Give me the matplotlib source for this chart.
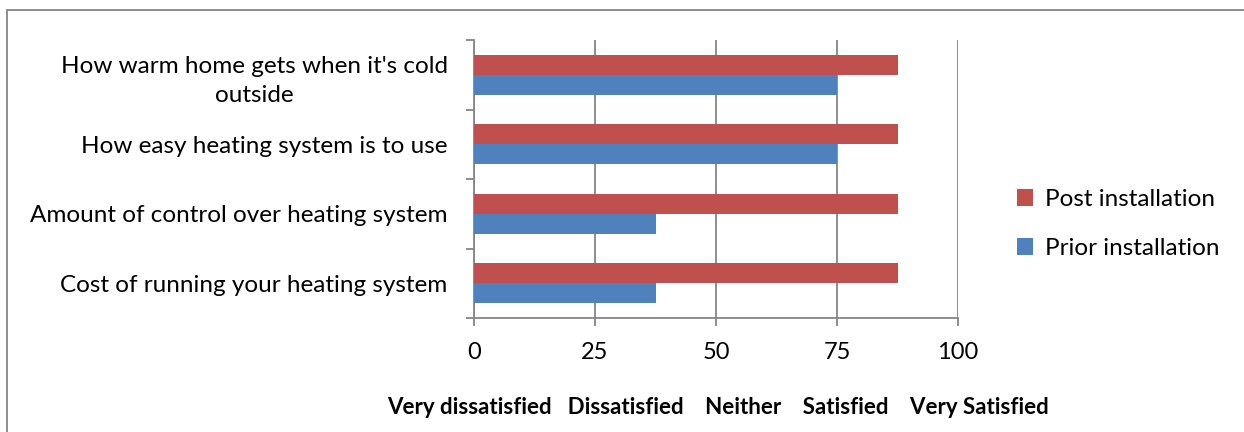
import numpy as np
import matplotlib.pyplot as plt
from matplotlib.patches import Rectangle

# Data
categories = ["Cost of running your heating system",
              "Amount of control over heating system",
              "How easy heating system is to use",
              "How warm home gets when it's cold\noutside"]
prior = [37.5, 37.5, 75, 75]
post = [87.5, 87.5, 87.5, 87.5]
x_ticks = [0, 25, 50, 75, 100]
scale_title = "Very dissatisfied   Dissatisfied    Neither    Satisfied    Very Satisfied"

plt.rcParams['font.family'] = ['Lato', 'DejaVu Sans']

W, H = 1244, 432
fig = plt.figure(figsize=(W / 100, H / 100), dpi=100)
ax = fig.add_axes([474 / W, 1 - 318 / H, (958 - 474) / W, (318 - 40) / H])

grid_col = '#868686'
bar_h = 1 / 1.75 / 2
y = np.arange(len(categories))
ax.barh(y - bar_h / 2, prior, height=bar_h, color='#4F81BD', label='Prior installation', zorder=3)
ax.barh(y + bar_h / 2, post, height=bar_h, color='#C0504D', label='Post installation', zorder=3)

ax.set_xlim(0, 100)
ax.set_ylim(-0.5, len(categories) - 0.5)
ax.set_xticks(x_ticks)
ax.set_xticklabels([str(v) for v in x_ticks], fontsize=17)
ax.xaxis.grid(True, color=grid_col, linewidth=1.3, zorder=0)

ax.set_yticks(y)
ax.set_yticklabels(categories, fontsize=17.5, multialignment='center', linespacing=1.5)
ax.set_yticks(np.arange(-0.5, len(categories)), minor=True)
ax.tick_params(axis='y', which='major', length=0, pad=19)
ax.tick_params(axis='y', which='minor', length=6, color=grid_col, width=1.3)
ax.tick_params(axis='x', length=6, color=grid_col, width=1.3, pad=11)

for s in ['top', 'right']:
    ax.spines[s].set_visible(False)
for s in ['left', 'bottom']:
    ax.spines[s].set_color(grid_col)
    ax.spines[s].set_linewidth(1.3)

handles, labels = ax.get_legend_handles_labels()
ax.legend(handles[::-1], labels[::-1], loc='center left', bbox_to_anchor=(995 / W, 1 - 224 / H),
          bbox_transform=fig.transFigure, frameon=False, fontsize=17.5,
          handlelength=0.65, handleheight=0.65, handletextpad=0.5, labelspacing=1.15)

fig.text(718 / W, 1 - 407 / H, scale_title, ha='center', va='center',
         fontsize=16, fontweight='bold')

fig.patches.append(Rectangle((7 / W, -0.1), 1.2, 1 - 10 / H + 0.1, transform=fig.transFigure,
                             fill=False, edgecolor=grid_col, linewidth=1.3))

fig.savefig('out.png', dpi=100)
